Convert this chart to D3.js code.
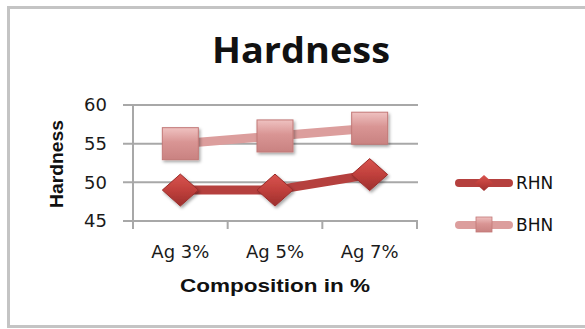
<!DOCTYPE html>
<html><head><meta charset="utf-8">
<script src="https://cdn.jsdelivr.net/npm/d3@7"></script>
<style>body{margin:0;background:#fff}svg{display:block}</style>
</head><body>
<script>
const categories = ["Ag 3%", "Ag 5%", "Ag 7%"];
const rhn = [49, 49, 51];
const bhn = [55, 56, 57];
const yTicks = [45, 50, 55, 60];
const seriesNames = ["RHN", "BHN"];

const W = 585, H = 329;
const svg = d3.select("body").append("svg").attr("width", W).attr("height", H);
const defs = svg.append("defs");
const gSq = defs.append("linearGradient").attr("id","gsq").attr("x1",0).attr("y1",0).attr("x2",0).attr("y2",1);
gSq.append("stop").attr("offset","0").attr("stop-color","#efc2c1");
gSq.append("stop").attr("offset","0.45").attr("stop-color","#d99594");
gSq.append("stop").attr("offset","1").attr("stop-color","#c98281");
const gDi = defs.append("linearGradient").attr("id","gdi").attr("x1",0).attr("y1",0).attr("x2",0).attr("y2",1);
gDi.append("stop").attr("offset","0").attr("stop-color","#d9544f");
gDi.append("stop").attr("offset","0.5").attr("stop-color","#c0403c");
gDi.append("stop").attr("offset","1").attr("stop-color","#9c2f2d");
const sh = defs.append("filter").attr("id","sh").attr("x","-30%").attr("y","-30%").attr("width","170%").attr("height","170%");
sh.append("feDropShadow").attr("dx",1.5).attr("dy",2).attr("stdDeviation",1.5).attr("flood-color","#000").attr("flood-opacity",0.35);

// chart border
svg.append("rect").attr("x",8.5).attr("y",7.5).attr("width",590).attr("height",319)
  .attr("fill","#fff").attr("stroke","#c4c4c4").attr("stroke-width",3);

const x = d3.scaleBand().domain(categories).range([133, 417]);
const y = d3.scaleLinear().domain([45, 60]).range([221, 105]);

// title
svg.append("text").attr("x",301).attr("y",63).attr("text-anchor","middle")
  .attr("font-family","Open Sans, sans-serif").attr("font-weight","bold").attr("font-size",35)
  .attr("textLength",178).attr("lengthAdjust","spacingAndGlyphs").attr("fill","#111").text("Hardness");

// gridlines
svg.append("g").selectAll("line").data(yTicks).join("line")
  .attr("x1",123).attr("x2",418).attr("y1",d=>y(d)).attr("y2",d=>y(d))
  .attr("stroke","#a8a8a8").attr("stroke-width",2);
// y axis line
svg.append("line").attr("x1",133).attr("x2",133).attr("y1",y(60)).attr("y2",y(45)+1)
  .attr("stroke","#a8a8a8").attr("stroke-width",2);
// x ticks
const xt = [133].concat(categories.map(c=>x(c)+x.bandwidth()));
svg.append("g").selectAll("line").data(xt).join("line")
  .attr("x1",d=>d).attr("x2",d=>d).attr("y1",y(45)).attr("y2",y(45)+8)
  .attr("stroke","#a8a8a8").attr("stroke-width",2);

// y tick labels
svg.append("g").selectAll("text").data(yTicks).join("text")
  .attr("x",107).attr("y",d=>y(d)).attr("dy","0.36em").attr("text-anchor","end")
  .attr("font-family","DejaVu Sans, sans-serif").attr("font-size",18).attr("fill","#1a1a1a").text(d=>d);
// x tick labels
svg.append("g").selectAll("text").data(categories).join("text")
  .attr("x",d=>x(d)+x.bandwidth()/2).attr("y",258).attr("text-anchor","middle")
  .attr("font-family","DejaVu Sans, sans-serif").attr("font-size",18).attr("fill","#1a1a1a")
  .text(d=>d);
// axis titles
svg.append("text").attr("x",275).attr("y",292).attr("text-anchor","middle")
  .attr("font-family","Liberation Sans, Arial, sans-serif").attr("font-weight","bold").attr("font-size",19)
  .attr("textLength",190).attr("lengthAdjust","spacingAndGlyphs").attr("fill","#111").text("Composition in %");
svg.append("text").attr("transform","translate(63,164) rotate(-90)").attr("text-anchor","middle")
  .attr("font-family","Liberation Sans, Arial, sans-serif").attr("font-weight","bold").attr("font-size",19)
  .attr("textLength",88).attr("lengthAdjust","spacingAndGlyphs").attr("fill","#111").text("Hardness");

const cx = d => x(d) + x.bandwidth()/2;
const line = d3.line().x((d,i)=>cx(categories[i])).y(d=>y(d));

// BHN
svg.append("path").datum(bhn).attr("d",line).attr("fill","none").attr("stroke","#dc9e9d").attr("stroke-width",9);
svg.append("g").selectAll("rect").data(bhn).join("rect")
  .attr("x",(d,i)=>cx(categories[i])-18).attr("y",d=>y(d)-16).attr("width",36).attr("height",32)
  .attr("fill","url(#gsq)").attr("stroke","#c27877").attr("stroke-width",1).attr("filter","url(#sh)");
// RHN
svg.append("path").datum(rhn).attr("d",line).attr("fill","none").attr("stroke","#b5403e").attr("stroke-width",9);
svg.append("g").selectAll("path.d").data(rhn).join("path")
  .attr("d",(d,i)=>{const px=cx(categories[i]), py=y(d); return `M${px},${py-16}L${px+18},${py}L${px},${py+16}L${px-18},${py}Z`;})
  .attr("fill","url(#gdi)").attr("stroke","#9a2d2b").attr("stroke-width",1).attr("filter","url(#sh)");

// legend
const leg = svg.append("g");
const ly = [183, 225];
seriesNames.forEach((n,i)=>{
  leg.append("line").attr("x1",459).attr("x2",509).attr("y1",ly[i]).attr("y2",ly[i])
    .attr("stroke", i===0 ? "#b5403e" : "#dc9e9d").attr("stroke-width",8).attr("stroke-linecap","round");
  if(i===0){
    leg.append("path").attr("d",`M484,${ly[i]-8}L493,${ly[i]}L484,${ly[i]+8}L475,${ly[i]}Z`)
      .attr("fill","url(#gdi)");
  } else {
    leg.append("rect").attr("x",476).attr("y",ly[i]-8).attr("width",16).attr("height",15)
      .attr("fill","url(#gsq)").attr("stroke","#c27877").attr("stroke-width",0.8);
  }
  leg.append("text").attr("x",516).attr("y",ly[i]).attr("dy","0.36em")
    .attr("font-family","DejaVu Sans, sans-serif").attr("font-size",17).attr("fill","#111").text(n);
});
</script>
</body></html>
